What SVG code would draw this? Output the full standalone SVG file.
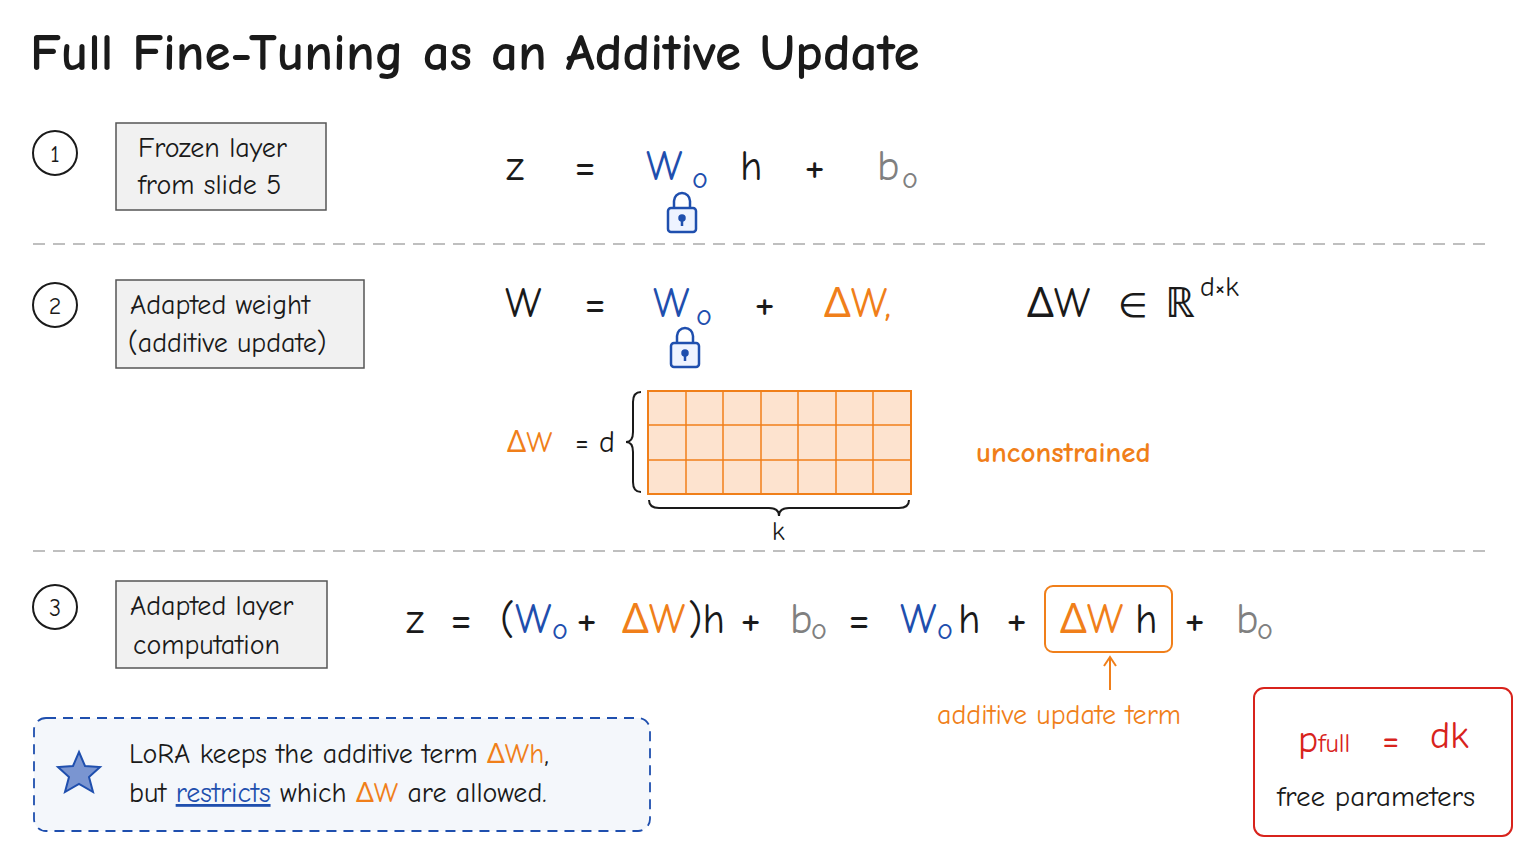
<svg xmlns="http://www.w3.org/2000/svg" width="1536" height="864" viewBox="0 0 1536 864">
<style>
text{font-family:"Comic Neue","Noto Sans","DejaVu Sans",sans-serif;fill:#1a1a1a}
.lbl{font-size:28px}
.eq{font-size:42px}
.op{font-size:48px}
.blue{fill:#1f4fae}.or{fill:#f07f1a}.gray{fill:#808080}.red{fill:#d8231c}
.box{fill:#f1f1f1;stroke:#555;stroke-width:1.5}
.num{fill:#fff;stroke:#1a1a1a;stroke-width:2}
.dash{stroke:#aaa;stroke-width:1.5;stroke-dasharray:12 8}
</style>
<rect width="1536" height="864" fill="#fff"/>
<text x="30" y="70" font-size="53" font-weight="bold">Full Fine-Tuning as an Additive Update</text>
<g id="n1"><circle class="num" cx="55" cy="153" r="22"/><text x="55" y="162" font-size="24" text-anchor="middle">1</text>
<rect class="box" x="116" y="123" width="210" height="87"/><text class="lbl" x="138" y="157">Frozen layer</text><text class="lbl" x="138" y="194">from slide 5</text></g>
<g id="eq1" class="eq"><text x="506" y="180">z</text><text class="op" x="574" y="182">=</text><text x="646" y="180" class="blue">W</text><text x="692" y="188" class="blue" font-size="30">o</text><text x="740" y="180">h</text><text class="op" x="804" y="182">+</text><text x="877" y="180" class="gray">b</text><text x="902" y="188" class="gray" font-size="30">o</text>
<g id="lock1" fill="none" stroke="#1f4fae" stroke-width="2.5"><path d="M674 208v-7a8 8 0 0 1 16 0v7"/><rect x="668" y="208" width="28" height="24" rx="3" fill="#eef3ff"/><circle cx="682" cy="218" r="2.5" fill="#1f4fae"/><path d="M682 220v6"/></g></g>
<line class="dash" x1="33" y1="244" x2="1485" y2="244"/>
<g id="n2"><circle class="num" cx="55" cy="305" r="22"/><text x="55" y="314" font-size="24" text-anchor="middle">2</text>
<rect class="box" x="116" y="280" width="248" height="88"/><text class="lbl" x="130" y="314">Adapted weight</text><text class="lbl" x="128" y="352">(additive update)</text></g>
<g id="eq2" class="eq"><text x="505" y="317">W</text><text class="op" x="584" y="319">=</text><text x="653" y="317" class="blue">W</text><text x="696" y="325" class="blue" font-size="30">o</text><text class="op" x="754" y="319">+</text><text x="824" y="317" class="or">ΔW,</text><text x="1027" y="317">ΔW</text><text x="1118" y="317" font-size="34">∈</text><text x="1165" y="317">ℝ</text><text x="1200" y="296" font-size="28">d×k</text>
<g fill="none" stroke="#1f4fae" stroke-width="2.5"><path d="M677 343v-7a8 8 0 0 1 16 0v7"/><rect x="671" y="343" width="28" height="24" rx="3" fill="#eef3ff"/><circle cx="685" cy="353" r="2.5" fill="#1f4fae"/><path d="M685 355v6"/></g></g>
<g id="matrix"><text x="507" y="452" font-size="30" class="or">ΔW</text><text x="575" y="452" font-size="30">= d</text>
<path d="M641 392q-8 0-8 10v30q0 10-7 10q7 0 7 10v30q0 10 8 10" fill="none" stroke="#1a1a1a" stroke-width="2"/>
<rect x="648" y="391" width="263" height="103" fill="#fde3cf" stroke="#f07f1a" stroke-width="2"/>
<g stroke="#f07f1a" stroke-width="1.5"><line x1="686" y1="391" x2="686" y2="494"/><line x1="723" y1="391" x2="723" y2="494"/><line x1="761" y1="391" x2="761" y2="494"/><line x1="798" y1="391" x2="798" y2="494"/><line x1="836" y1="391" x2="836" y2="494"/><line x1="873" y1="391" x2="873" y2="494"/><line x1="648" y1="425" x2="911" y2="425"/><line x1="648" y1="460" x2="911" y2="460"/></g>
<path d="M649 500q0 8 10 8h110q10 0 10 8q0-8 10-8h110q10 0 10-8" fill="none" stroke="#1a1a1a" stroke-width="2"/>
<text x="772" y="540" font-size="26">k</text>
<text x="976" y="462" font-size="29" font-weight="bold" class="or">unconstrained</text></g>
<line class="dash" x1="33" y1="551" x2="1485" y2="551"/>
<g id="n3"><circle class="num" cx="55" cy="607" r="22"/><text x="55" y="616" font-size="24" text-anchor="middle">3</text>
<rect class="box" x="116" y="581" width="211" height="87"/><text class="lbl" x="130" y="615">Adapted layer</text><text class="lbl" x="133" y="654">computation</text></g>
<g id="eq3" class="eq"><text x="406" y="633">z</text><text class="op" x="450" y="635">=</text><text x="500" y="633">(</text><text x="515" y="633" class="blue">W</text><text x="552" y="639" class="blue" font-size="30">o</text><text class="op" x="576" y="635">+</text><text x="622" y="633" class="or">ΔW</text><text x="688" y="633">)h</text><text class="op" x="740" y="635">+</text><text x="790" y="633" class="gray">b</text><text x="811" y="639" class="gray" font-size="30">o</text><text class="op" x="848" y="635">=</text><text x="900" y="633" class="blue">W</text><text x="937" y="639" class="blue" font-size="30">o</text><text x="958" y="633">h</text><text class="op" x="1006" y="635">+</text>
<rect x="1045" y="586" width="127" height="66" rx="8" fill="none" stroke="#f07f1a" stroke-width="2"/><text x="1060" y="633" class="or">ΔW</text><text x="1135" y="633">h</text><text class="op" x="1184" y="635">+</text><text x="1236" y="633" class="gray">b</text><text x="1257" y="639" class="gray" font-size="30">o</text></g>
<g id="conn"><path d="M1110 690V658M1104 666l6-9 6 9" fill="none" stroke="#f07f1a" stroke-width="2"/></g>
<text x="937" y="724" font-size="28" class="or">additive update term</text>
<g id="note"><rect x="34" y="718" width="616" height="113" rx="12" fill="#f4f7fb" stroke="#1f4fae" stroke-width="1.8" stroke-dasharray="10 7"/>
<path d="M79 752l6 14 15 1-11 10 4 15-14-8-14 8 4-15-11-10 15-1z" fill="#7a95d1" stroke="#1f4fae" stroke-width="2"/>
<text class="lbl" x="129" y="763">LoRA keeps the additive term <tspan class="or">ΔWh</tspan>,</text>
<text class="lbl" x="129" y="802">but <tspan class="blue" text-decoration="underline">restricts</tspan> which <tspan class="or">ΔW</tspan> are allowed.</text></g>
<g id="params"><rect x="1254" y="688" width="258" height="148" rx="10" fill="#fff" stroke="#d8231c" stroke-width="2"/>
<text x="1298" y="752" font-size="38" class="red">p<tspan font-size="26">full</tspan></text><text x="1382" y="752" font-size="38" class="red">=</text><text x="1430" y="748" font-size="38" class="red">dk</text>
<text x="1277" y="806" font-size="29">free parameters</text></g>
</svg>
